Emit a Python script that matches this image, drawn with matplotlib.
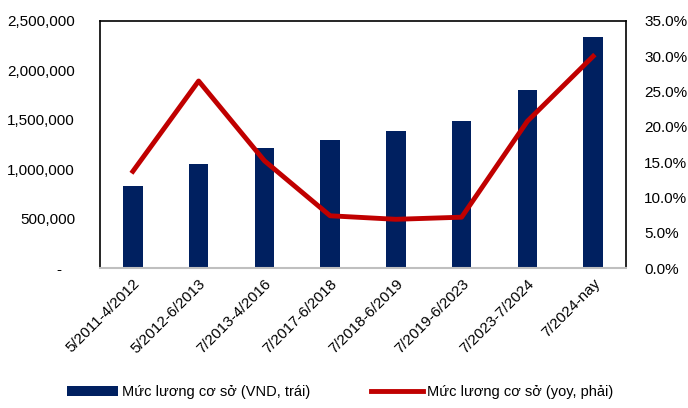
import matplotlib
matplotlib.use("Agg")
import matplotlib.pyplot as plt
from matplotlib.ticker import FuncFormatter, MultipleLocator
from matplotlib.transforms import ScaledTranslation

plt.rcParams['font.family'] = ['Liberation Sans', 'DejaVu Sans']

categories = ["5/2011-4/2012", "5/2012-6/2013", "7/2013-4/2016", "7/2017-6/2018",
              "7/2018-6/2019", "7/2019-6/2023", "7/2023-7/2024", "7/2024-nay"]
salary = [830000, 1050000, 1210000, 1300000, 1390000, 1490000, 1800000, 2340000]
yoy = [13.7, 26.5, 15.2, 7.4, 6.9, 7.2, 20.8, 30.0]

bar_color = "#002060"
line_color = "#C00000"

fig = plt.figure(figsize=(6.88, 4.08), dpi=100)
ax = fig.add_axes([100/688, 1-268/408, 526/688, 247/408])
x = list(range(len(categories)))
b = ax.bar(x, salary, width=0.3, color=bar_color, zorder=2)
ax.set_ylim(0, 2500000)
ax.set_xlim(-0.5, len(categories) - 0.5)
ax.yaxis.set_major_locator(MultipleLocator(500000))
ax.yaxis.set_major_formatter(FuncFormatter(lambda v, p: "-   " if v == 0 else f"{int(v):,}"))
ax.set_xticks(x)
ax.set_xticklabels(categories, rotation=45, ha="right", rotation_mode="anchor")
off = ScaledTranslation(-4/100, 0, fig.dpi_scale_trans)
for lab in ax.get_xticklabels():
    lab.set_transform(lab.get_transform() + off)
ax.tick_params(axis="both", length=0, labelsize=11, colors="black")
ax.tick_params(axis="x", pad=6)
ax.tick_params(axis="y", pad=18)
for s in ["top", "left", "right"]:
    ax.spines[s].set_color("black")
    ax.spines[s].set_linewidth(1.2)
ax.spines["bottom"].set_color("#BFBFBF")
ax.spines["bottom"].set_linewidth(1.5)

ax2 = ax.twinx()
l, = ax2.plot(x, yoy, color=line_color, linewidth=3.5, zorder=3)
ax2.set_ylim(0, 35)
ax2.yaxis.set_major_locator(MultipleLocator(5))
ax2.yaxis.set_major_formatter(FuncFormatter(lambda v, p: f"{v:.1f}%"))
ax2.tick_params(axis="y", length=0, labelsize=11, pad=13)
for s in ax2.spines.values():
    s.set_visible(False)

fig.legend([b, l], ["Mức lương cơ sở (VND, trái)", "Mức lương cơ sở (yoy, phải)"],
           loc="center", bbox_to_anchor=(0.494, 1-392/408), ncol=2, frameon=False,
           fontsize=10.5, handlelength=3.5, columnspacing=4.2, handletextpad=0.3)

fig.savefig("out.png", dpi=100)
